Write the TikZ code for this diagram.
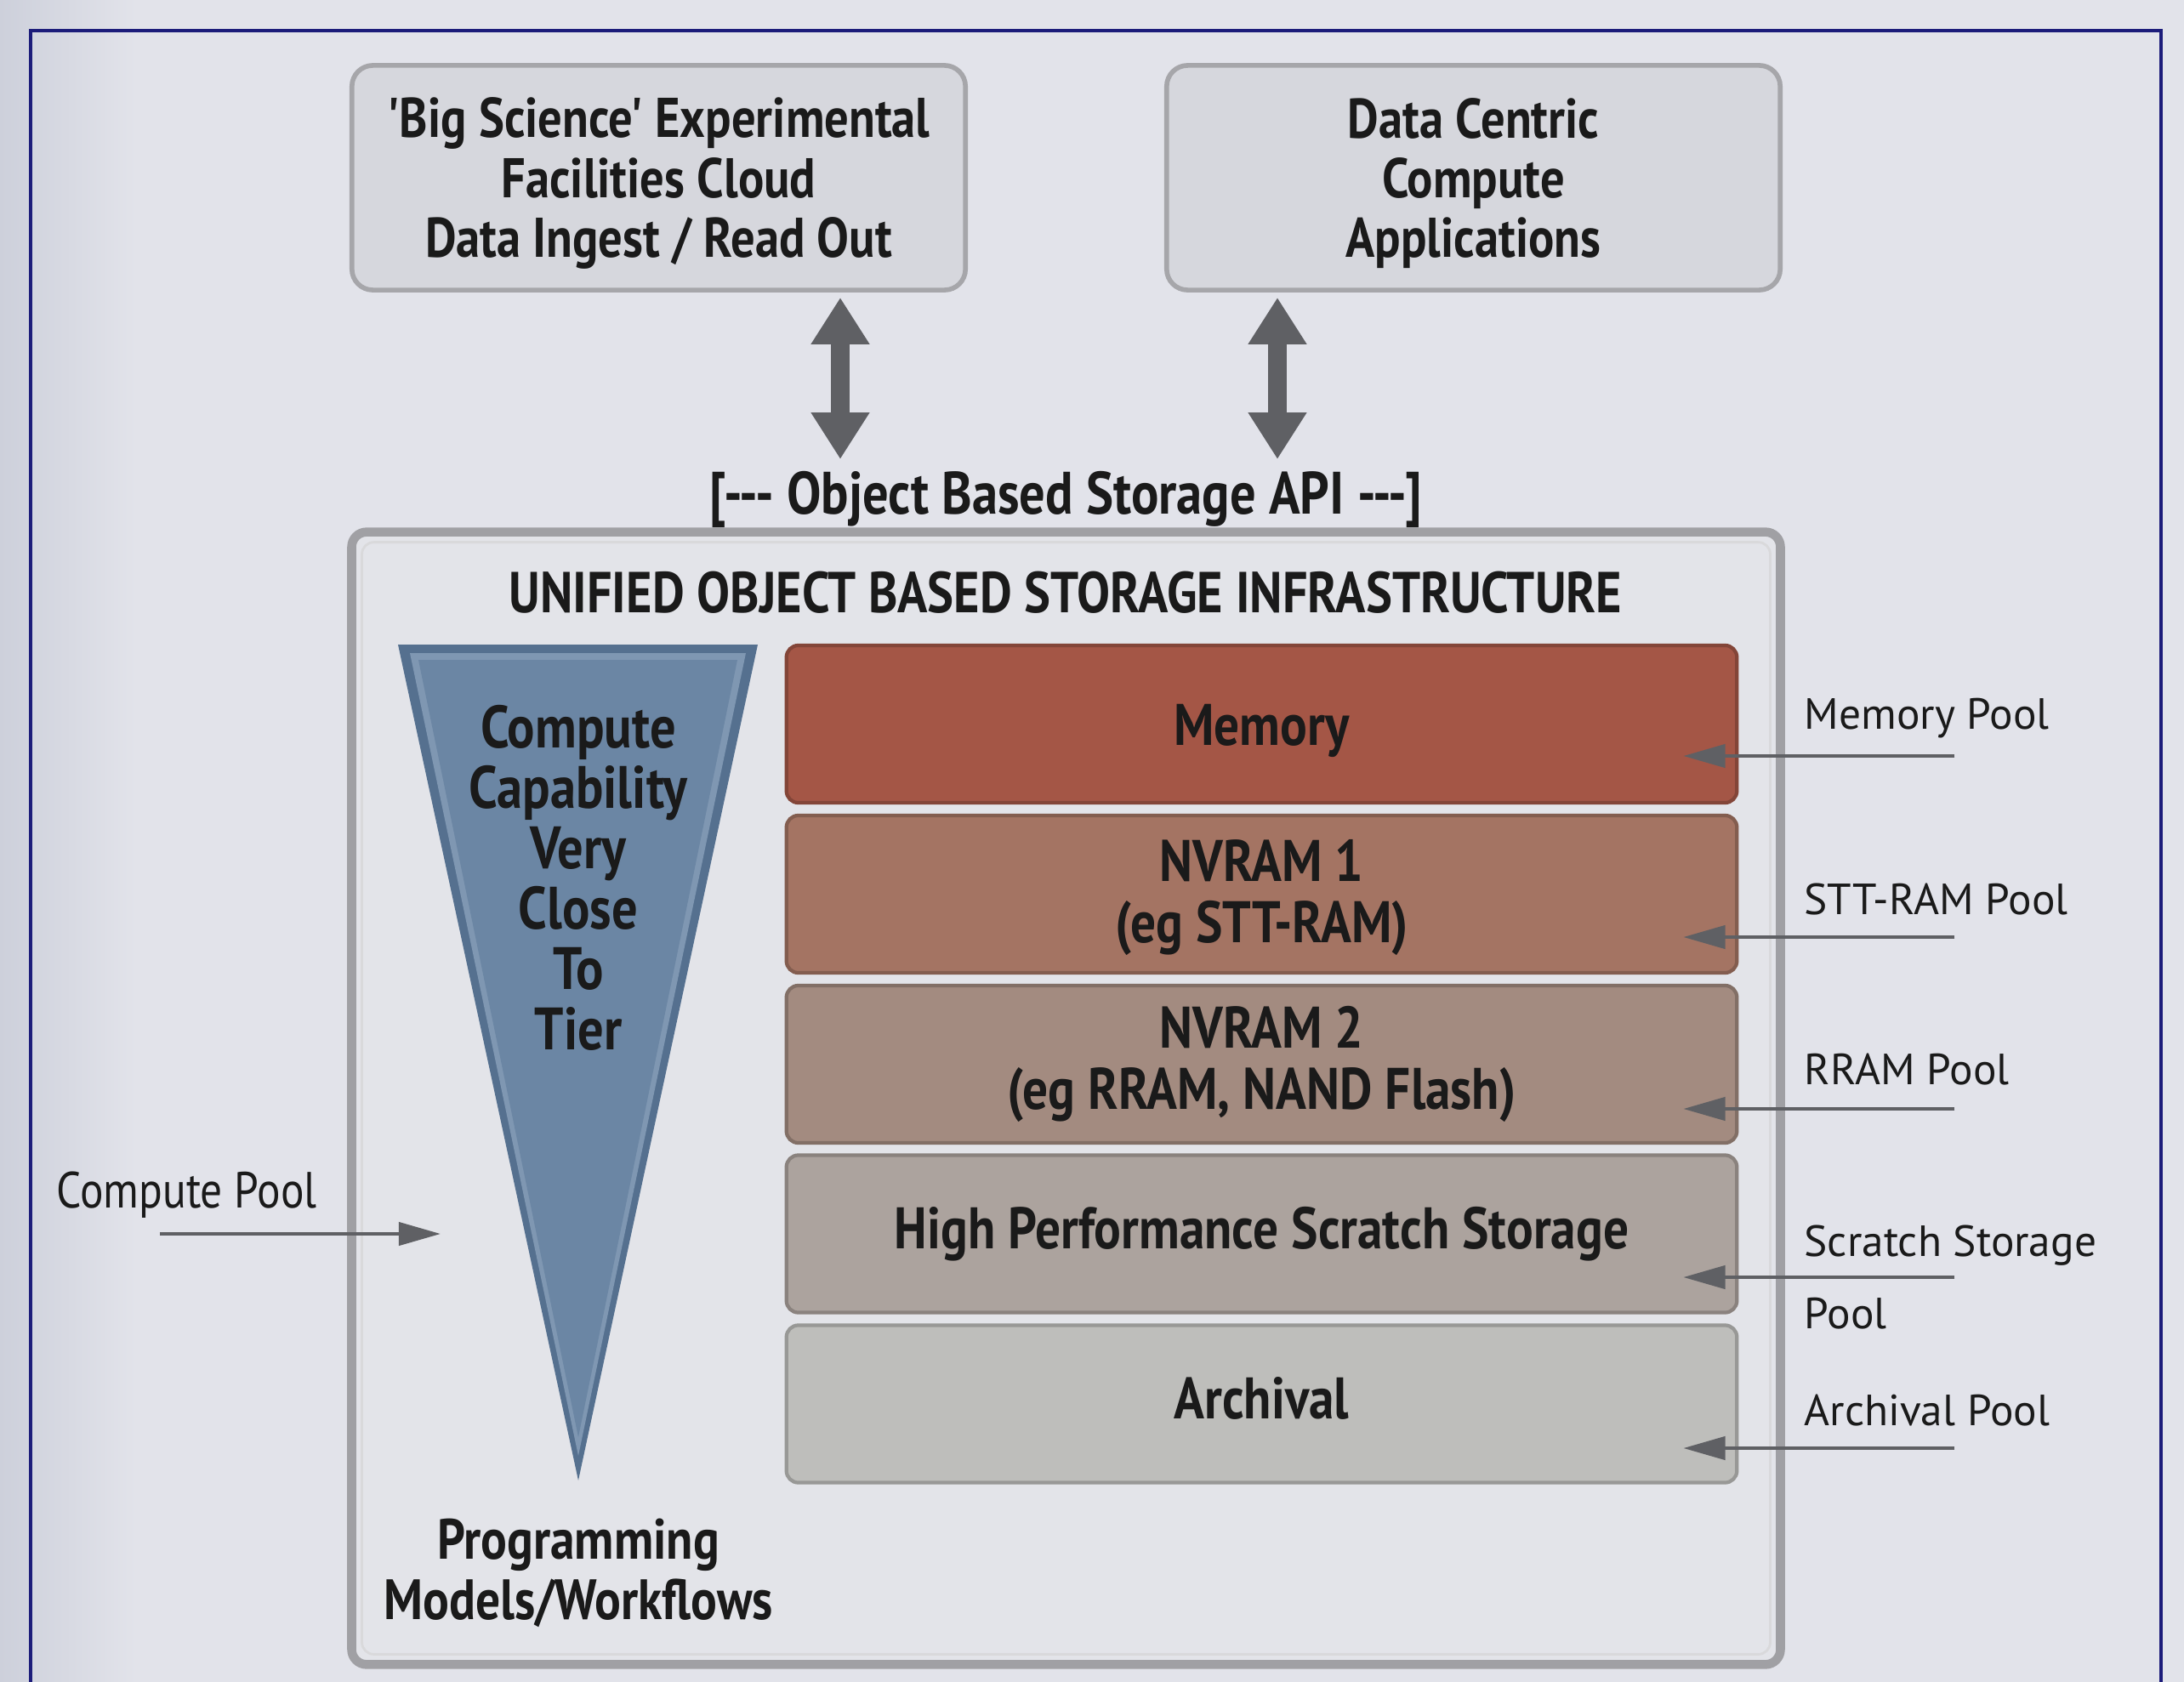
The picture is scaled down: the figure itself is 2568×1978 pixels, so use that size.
\documentclass[tikz,border=0pt]{standalone}
\usepackage{fontspec}
\setmainfont{PT Sans}
\newfontfamily\nar{PT Sans}[FakeStretch=0.86]
\usetikzlibrary{arrows.meta}
\definecolor{bgc}{HTML}{E2E3EA}
\definecolor{bgedge}{HTML}{CDD0DB}
\definecolor{framec}{HTML}{1C1C7A}
\definecolor{boxfill}{HTML}{D6D7DD}
\definecolor{boxedge}{HTML}{A6A6AA}
\definecolor{contc}{HTML}{A0A0A4}
\definecolor{contfill}{HTML}{E3E4E9}
\definecolor{arrowc}{HTML}{5F6064}
\definecolor{txt}{HTML}{1A1A1A}
\definecolor{memc}{HTML}{A45646}
\definecolor{nv1c}{HTML}{A47463}
\definecolor{nv2c}{HTML}{A38B80}
\definecolor{hpsc}{HTML}{ACA39E}
\definecolor{arcc}{HTML}{BEBEBB}
\definecolor{tribd}{HTML}{55708F}
\definecolor{trif}{HTML}{6B86A4}
\definecolor{trihi}{HTML}{7F97B2}
\begin{document}
\begin{tikzpicture}[x=0.01cm,y=-0.01cm,
  topbox/.style={draw=boxedge,line width=1.6pt,fill=boxfill,rounded corners=7pt,
    minimum width=7.21cm,minimum height=2.64cm},
  boxtxt/.style={align=center,inner sep=0pt,text=txt,
    font=\nar\bfseries\fontsize{18.7}{20}\selectfont},
  layer/.style={draw=#1!80!black,fill=#1,line width=1.2pt,rounded corners=4pt,
    minimum width=11.17cm,minimum height=1.85cm,align=center,inner sep=0pt,text=txt,
    font=\nar\bfseries\fontsize{19.6}{20.5}\selectfont},
  pool/.style={anchor=west,align=left,inner sep=0pt,text=txt,
    font=\fontsize{14.6}{24}\selectfont},
  boldtxt/.style={align=center,inner sep=0pt,text=txt,
    font=\nar\bfseries\fontsize{20}{20.2}\selectfont},
  bigarrow/.style={draw=arrowc,line width=6pt,
    {Triangle[length=15.6pt,width=18.5pt]}-{Triangle[length=15.6pt,width=18.5pt]}},
  poolarrow/.style={draw=arrowc,line width=1.2pt,-{Triangle[length=14pt,width=7.7pt]}},
]
\useasboundingbox (0,0) rectangle (2568,1978);
\fill[bgc] (0,0) rectangle (2568,1978);
\shade[left color=bgedge,right color=bgc] (0,0) rectangle (160,1978);
\draw[framec,line width=1.1pt] (36,2000) -- (36,36) -- (2541,36) -- (2541,2000);

% top boxes
\node[topbox] (box1) at (774.5,209) {};
\node[boxtxt] (box1t) at ([yshift=-0.065cm]box1.center) {'Big Science' Experimental\\Facilities Cloud\\Data Ingest / Read Out};
\node[topbox] (box2) at (1732.5,209) {};
\node[boxtxt] (box2t) at ([yshift=-0.065cm]box2.center) {Data Centric\\Compute\\Applications};

% API label
\node[boldtxt] (api) at (1253,587) {[--- Object Based Storage API ---]};
\coordinate (a1) at (988,540);
\coordinate (a2) at (1502,540);
\draw[bigarrow,shorten <=0.06cm] (box1.south -| a1) -- (a1);
\draw[bigarrow,shorten <=0.06cm] (box2.south -| a2) -- (a2);

% container
\node[draw=contc,line width=3pt,fill=contfill,rounded corners=5pt,
  minimum width=16.79cm,minimum height=13.31cm] (infra) at (1253.5,1291.5) {};
\node[draw=white!60!contc,line width=0.8pt,rounded corners=4pt,
  minimum width=16.55cm,minimum height=13.07cm] (infrain) at (1253.5,1291.5) {};
\node[boldtxt,font=\nar\bfseries\fontsize{19.3}{20}\selectfont] (title) at (1253,697) {UNIFIED OBJECT BASED STORAGE INFRASTRUCTURE};

% triangle
\fill[tribd] (468,758) -- (891,758) -- (680,1741) -- cycle;
\fill[trihi] (482,768) -- (877,768) -- (680,1712) -- cycle;
\fill[trif] (492,776) -- (867,776) -- (680,1690) -- cycle;
\node[boldtxt] (tri) at (680,1032) {Compute\\Capability\\Very\\Close\\To\\Tier};
\node[boldtxt,font=\nar\bfseries\fontsize{19}{20.2}\selectfont] (prog) at (680,1850) {Programming\\Models/Workflows};

% layers
\node[layer=memc] (mem) at (1483.5,851.5) {\raisebox{-0.08cm}[\height][\depth]{Memory}};
\node[layer=nv1c] (nv1) at (1483.5,1051.5) {\raisebox{-0.04cm}[\height][\depth]{NVRAM 1}\\\raisebox{-0.04cm}[\height][\depth]{(eg STT-RAM)}};
\node[layer=nv2c] (nv2) at (1483.5,1251.5) {NVRAM 2\\(eg RRAM, NAND Flash)};
\node[layer=hpsc] (hps) at (1483.5,1451) {High Performance Scratch Storage};
\node[layer=arcc] (arc) at (1483.5,1651) {\raisebox{0.07cm}[\height][\depth]{Archival}};

% pool labels
\node[pool] (pmem) at (2121,845) {Memory Pool};
\node[pool] (pstt) at (2121,1058) {STT-RAM Pool};
\node[pool] (prram) at (2121,1258) {RRAM Pool};
\node[pool] (pscr) at (2121,1502) {Scratch Storage\\Pool};
\node[pool] (parc) at (2121,1659) {Archival Pool};

\coordinate (s1) at (2298,889);
\coordinate (s2) at (2298,1102);
\coordinate (s3) at (2298,1304);
\coordinate (s4) at (2298,1502);
\coordinate (s5) at (2298,1703);
\draw[poolarrow] (s1) -- ([xshift=-0.65cm]s1 -| mem.east);
\draw[poolarrow] (s2) -- ([xshift=-0.65cm]s2 -| nv1.east);
\draw[poolarrow] (s3) -- ([xshift=-0.65cm]s3 -| nv2.east);
\draw[poolarrow] (s4) -- ([xshift=-0.65cm]s4 -| hps.east);
\draw[poolarrow] (s5) -- ([xshift=-0.65cm]s5 -| arc.east);

% compute pool
\node[anchor=west,inner sep=0pt,text=txt,font=\nar\fontsize{17}{20}\selectfont] (cpl) at (66,1405) {Compute Pool};
\coordinate (cpS) at (188,1451);
\coordinate (cpE) at (518,1451);
\draw[poolarrow] (cpS) -- (cpE);
\end{tikzpicture}
\end{document}
